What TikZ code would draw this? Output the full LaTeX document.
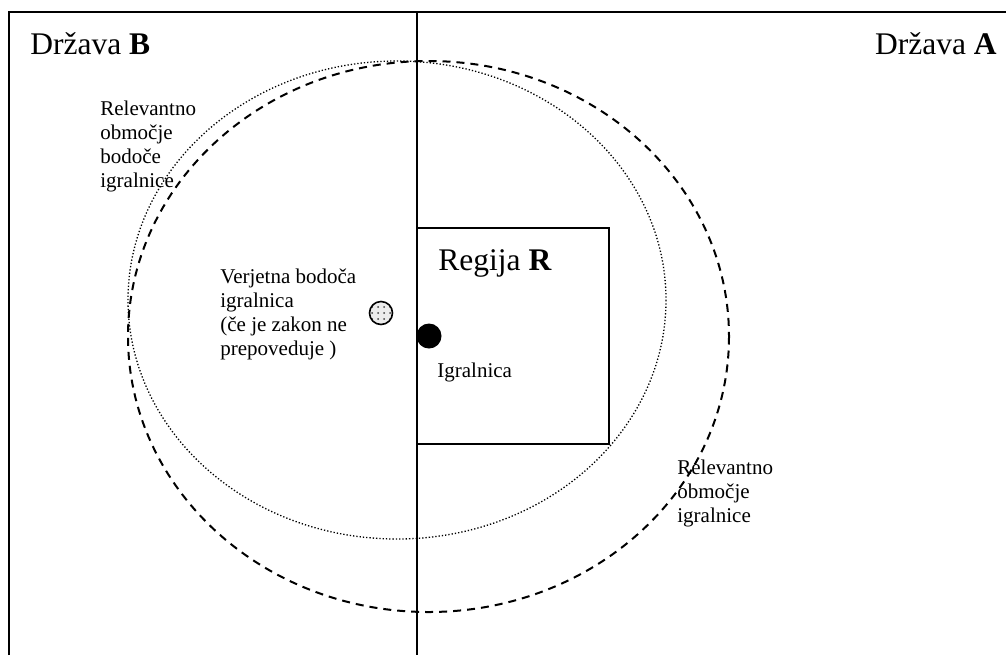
\documentclass[tikz,border=0pt]{standalone}
\usepackage{fontspec}
\setmainfont{Liberation Serif}
\usetikzlibrary{patterns}
\tikzset{
  bigtext/.style={inner sep=0pt,font=\fontsize{15.75}{18}\selectfont},
  smalltext/.style={inner sep=0pt,align=left,font=\fontsize{10.5}{11.9}\selectfont},
  borderline/.style={line width=1pt},
  dashring/.style={line width=1pt,dash pattern=on 4pt off 3pt},
  dotring/.style={line width=0.65pt,dash pattern=on 0.65pt off 1pt},
  casinodot/.style={circle,fill=black,inner sep=0pt,minimum size=12.5pt},
  futuredot/.style={circle,draw,line width=0.8pt,inner sep=0pt,minimum size=11.5pt,
    preaction={fill=gray!15},pattern=dots,pattern color=black!75}
}
\begin{document}
\begin{tikzpicture}[x=0.5pt,y=-0.5pt]
\useasboundingbox (0,0) rectangle (1006,655);
\draw[borderline](9,655)--(9,12)--(1006,12);
\draw[borderline](417,12)--(417,655);
\draw[borderline](417,228)rectangle(609,444);
\draw[dotring](397,300)ellipse[x radius=269,y radius=239];
\draw[dashring](428.5,336.5)ellipse[x radius=300.5,y radius=275.5];
\node[bigtext,anchor=base west](stateB)at(30,54){Država \textbf{B}};
\node[bigtext,anchor=base east](stateA)at(997,54){Država \textbf{A}};
\node[bigtext,anchor=base west](region)at(438,270){Regija \textbf{R}};
% multi-line labels: base is the last line
\node[smalltext,anchor=base west](areaB)at(100,187){Relevantno\\območje\\bodoče\\igralnice};
\node[smalltext,anchor=base west](futurelabel)at(220,355){Verjetna bodoča\\igralnica\\(če je zakon ne\\prepoveduje )};
\node[smalltext,anchor=base west](casinolabel)at(437,377){Igralnica};
\node[smalltext,anchor=base west](areaA)at(677,522){Relevantno\\območje\\igralnice};
\node[casinodot](casino)at(429,336){};
\node[futuredot](future)at(381,313){};
\end{tikzpicture}
\end{document}
